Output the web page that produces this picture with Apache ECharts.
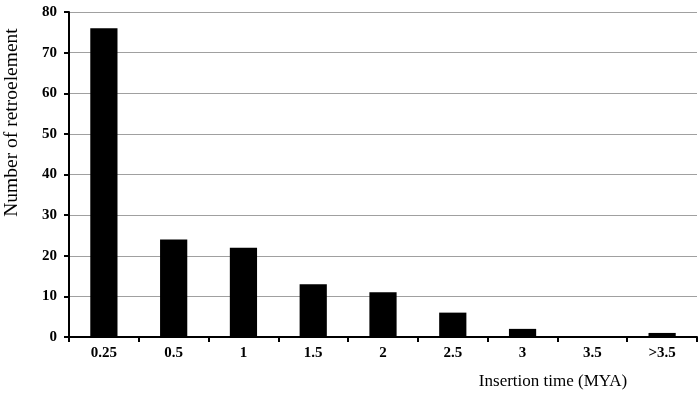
<!DOCTYPE html>
<html>
<head>
<meta charset="utf-8">
<script src="https://cdn.jsdelivr.net/npm/echarts@6/dist/echarts.min.js"></script>
<style>
  html, body { margin: 0; padding: 0; background: #fff; }
  #chart { width: 699px; height: 404px; }
</style>
</head>
<body>
<div id="chart"></div>
<script>
const categories = ['0.25', '0.5', '1', '1.5', '2', '2.5', '3', '3.5', '>3.5']
const counts = [76, 24, 22, 13, 11, 6, 2, 0, 1]
const yTicks = [0, 10, 20, 30, 40, 50, 60, 70, 80]

const font = 'Liberation Serif'

const chart = echarts.init(document.getElementById('chart'))
chart.setOption({
  animation: false,
  grid: { left: 69, right: 2, top: 12, bottom: 67, containLabel: false, outerBoundsMode: 'none' },
  xAxis: {
    type: 'category',
    data: categories,
    name: 'Insertion time (MYA)',
    nameLocation: 'middle',
    nameGap: 36,
    nameTextStyle: { fontFamily: font, fontSize: 17, color: '#000', padding: [0, 0, 0, 340] },
    axisLine: { lineStyle: { color: '#000', width: 2 } },
    axisTick: { show: true, inside: false, length: 5, lineStyle: { color: '#000', width: 2 } },
    axisLabel: { fontFamily: font, fontWeight: 'bold', fontSize: 15, color: '#000', margin: 9 },
    splitLine: { show: false }
  },
  yAxis: {
    type: 'value',
    min: yTicks[0],
    max: yTicks[yTicks.length - 1],
    interval: 10,
    name: 'Number of retroelement',
    nameLocation: 'middle',
    nameGap: 47,
    nameTextStyle: { fontFamily: font, fontSize: 19.5, color: '#000', padding: [0, 0, 0, 104] },
    axisLine: { show: true, lineStyle: { color: '#000', width: 2 } },
    axisTick: { show: true, length: 5, lineStyle: { color: '#000', width: 2 } },
    axisLabel: { fontFamily: font, fontWeight: 'bold', fontSize: 15, color: '#000', margin: 12 },
    splitLine: { show: true, lineStyle: { color: '#a0a0a0', width: 1 } }
  },
  series: [{
    type: 'bar',
    data: counts,
    barWidth: '39%',
    itemStyle: { color: '#000' }
  }]
})
</script>
</body>
</html>
